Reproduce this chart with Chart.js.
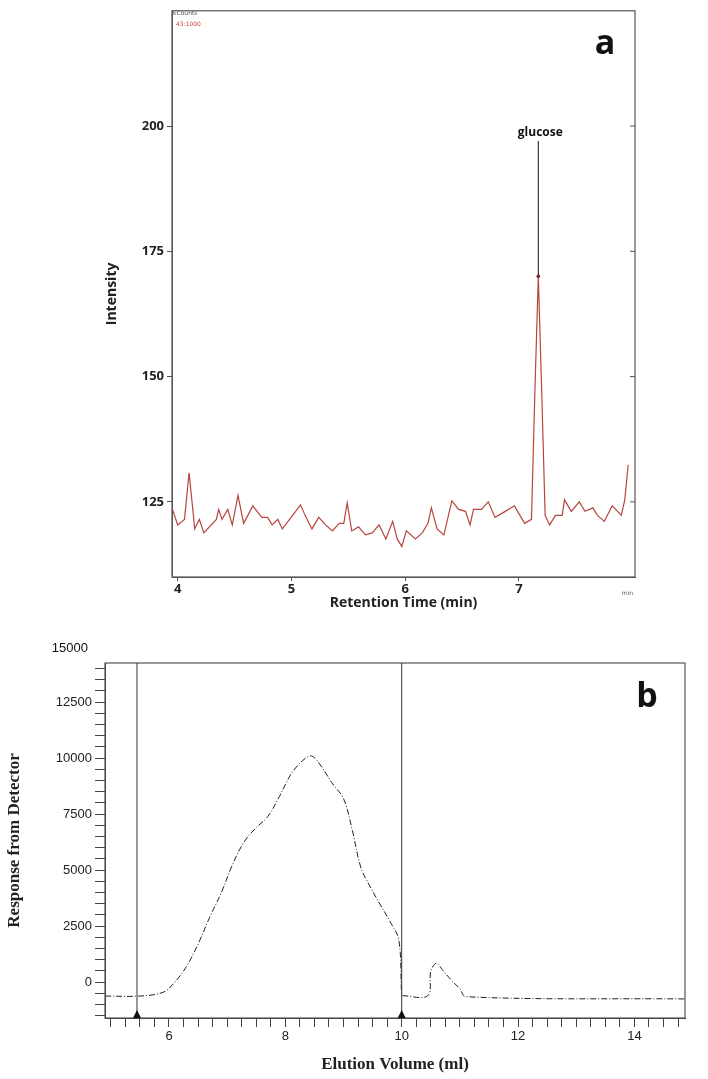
<!DOCTYPE html>
<html><head><meta charset="utf-8">
<script src="https://cdn.jsdelivr.net/npm/chart.js@4"></script>
<style>
body{margin:0;background:#fff;width:708px;height:1079px;position:relative;overflow:hidden}
.box{position:absolute}
</style></head><body>
<div class="box" style="left:100px;top:0;width:540px;height:615px"><canvas id="chartA"></canvas></div>
<div class="box" style="left:0;top:630px;width:708px;height:449px"><canvas id="chartB"></canvas></div>
<script>
// panel a: retention time (min) vs intensity
const timeA = [3.95,4.0,4.06,4.10,4.15,4.19,4.23,4.34,4.36,4.39,4.44,4.48,4.53,4.58,4.66,4.74,4.79,4.83,4.88,4.92,5.01,5.08,5.12,5.18,5.24,5.30,5.36,5.42,5.46,5.49,5.53,5.59,5.65,5.71,5.77,5.83,5.89,5.93,5.97,6.01,6.09,6.15,6.20,6.23,6.28,6.34,6.41,6.47,6.53,6.57,6.60,6.67,6.73,6.79,6.88,6.96,7.05,7.11,7.14,7.17,7.20,7.23,7.27,7.32,7.38,7.40,7.46,7.53,7.58,7.65,7.69,7.75,7.82,7.90,7.93,7.96];
const intensityA = [123.8,120.4,121.5,130.8,119.6,121.5,118.8,121.5,123.5,121.5,123.5,120.4,126.3,120.7,124.2,121.9,121.9,120.4,121.5,119.6,122.3,124.4,122.3,119.6,121.9,120.4,119.2,120.7,120.7,124.8,119.2,120.0,118.4,118.8,120.4,117.6,121.1,117.6,116.1,119.2,117.6,118.8,120.7,123.8,119.6,118.4,125.2,123.5,123.1,120.4,123.5,123.5,125.0,121.9,123.1,124.2,120.7,121.5,147,170,147,122.3,120.4,122.3,122.3,125.4,123.1,125.0,123.1,123.8,122.3,121.1,124.2,122.3,125.4,132.4];
const ticksA = [125,150,175,200];
const peakA = {x:7.17, y:170, label:'glucose'};

// panel b: elution volume (ml) vs detector response
const volumeB = [4.9,5.5,5.9,6.1,6.3,6.5,6.7,6.9,7.1,7.3,7.5,7.7,7.9,8.1,8.3,8.45,8.6,8.8,9.0,9.15,9.3,9.45,9.6,9.8,9.95,10.0,10.02,10.45,10.5,10.6,10.7,10.85,11.0,11.1,14.9];
const responseB = [-620,-620,-450,0,700,1700,2900,4000,5300,6300,6900,7400,8300,9300,9900,10100,9700,8900,8200,6800,5100,4300,3600,2700,1900,-550,-600,-600,500,850,550,100,-300,-650,-750];
const ticksB = [0,2500,5000,7500,10000,12500];
const markersB = [5.45,10.0];

const boxPlugin = {
  id:'box',
  afterDraw(c){
    const a=c.chartArea, ctx=c.ctx;
    ctx.save(); ctx.strokeStyle='#555'; ctx.lineWidth=1.2;
    ctx.strokeRect(a.left,a.top,a.right-a.left,a.bottom-a.top); ctx.restore();
  }
};

new Chart(document.getElementById('chartA'), {
  type:'line',
  data:{datasets:[{data:timeA.map((t,i)=>({x:t,y:intensityA[i]})),borderColor:'#b5473f',borderWidth:1.2,pointRadius:0,tension:0}]},
  options:{
    responsive:true, maintainAspectRatio:false, animation:false,
    layout:{padding:{top:5,right:5,left:0,bottom:0}},
    plugins:{legend:{display:false},tooltip:{enabled:false}},
    scales:{
      x:{type:'linear',min:3.95,max:8.02,afterBuildTicks:s=>{s.ticks=[4,5,6,7].map(v=>({value:v}))},
        grid:{drawOnChartArea:false,tickLength:4,color:'#555'},border:{color:'#555'},
        ticks:{color:'#222',font:{family:'Open Sans',size:13,weight:'bold'},padding:0},
        title:{display:true,text:'Retention Time (min)',color:'#222',font:{family:'Open Sans',size:14,weight:'bold'},padding:{top:0}},
        afterFit:s=>{s.height=38}},
      y:{min:110,max:223,afterBuildTicks:s=>{s.ticks=ticksA.map(v=>({value:v}))},
        grid:{drawOnChartArea:false,tickLength:5,color:'#555'},border:{color:'#555'},
        ticks:{color:'#222',font:{family:'Open Sans',size:13,weight:'bold'}},
        title:{display:true,text:'Intensity',color:'#222',font:{family:'Open Sans',size:14,weight:'bold'}},
        afterFit:s=>{s.width=72}}
    }
  },
  plugins:[boxPlugin,{id:'annA',afterDraw(c){
    const ctx=c.ctx,x=c.scales.x,y=c.scales.y,a=c.chartArea;
    const px=x.getPixelForValue(peakA.x),py=y.getPixelForValue(peakA.y),ty=y.getPixelForValue(197);
    ctx.save();
    ctx.strokeStyle='#111';ctx.lineWidth=1;ctx.beginPath();ctx.moveTo(px,ty);ctx.lineTo(px,py);ctx.stroke();
    ctx.fillStyle='#7a1f1a';ctx.beginPath();ctx.arc(px,py,1.8,0,7);ctx.fill();
    ctx.fillStyle='#111';ctx.font='bold 12px "Open Sans"';ctx.textAlign='center';
    ctx.fillText(peakA.label,px+2,y.getPixelForValue(200)+10);
    ctx.font='bold 34px "Open Sans"';ctx.fillText('a',a.right-30,a.top+43);
    ctx.font='6px "DejaVu Sans"';ctx.textAlign='left';ctx.fillStyle='#555';ctx.fillText('kCounts',a.left+1,a.top+4);
    ctx.fillStyle='#c44';ctx.fillText('43:1000',a.left+4,a.top+15);
    ctx.fillStyle='#555';ctx.textAlign='right';ctx.fillText('min',a.right-2,a.bottom+18);
    ctx.strokeStyle='#555';ticksA.forEach(v=>{const yy=y.getPixelForValue(v);ctx.beginPath();ctx.moveTo(a.right,yy);ctx.lineTo(a.right-5,yy);ctx.stroke();});
    ctx.restore();
  }}]
});

new Chart(document.getElementById('chartB'), {
  type:'line',
  data:{datasets:[{data:volumeB.map((v,i)=>({x:v,y:responseB[i]})),borderColor:'#222',borderWidth:1,borderDash:[6,2,1,2],pointRadius:0,tension:0.35}]},
  options:{
    responsive:true, maintainAspectRatio:false, animation:false,
    layout:{padding:{top:33,right:23,left:0,bottom:0}},
    plugins:{legend:{display:false},tooltip:{enabled:false}},
    scales:{
      x:{type:'linear',min:4.9,max:14.87,
        afterBuildTicks:s=>{const t=[];for(let v=5;v<=14.76;v+=0.25)t.push({value:Math.round(v*100)/100});s.ticks=t;},
        ticks:{autoSkip:false,maxRotation:0,color:'#222',font:{family:'Liberation Sans',size:13},padding:2,
          callback:v=>(v%2===0?String(v):'')},
        grid:{drawOnChartArea:false,tickLength:9,color:'#444'},border:{color:'#333'},
        title:{display:true,text:'Elution Volume (ml)',color:'#222',font:{family:'Liberation Serif',size:17,weight:'bold'},padding:{top:0}},
        afterFit:s=>{s.height=61}},
      y:{min:-1600,max:14250,
        afterBuildTicks:s=>{const t=[];for(let v=-1500;v<=14000;v+=500)t.push({value:v});s.ticks=t;},
        ticks:{autoSkip:false,color:'#222',font:{family:'Liberation Sans',size:13},
          callback:v=>(ticksB.includes(v)?String(v):'')},
        grid:{drawOnChartArea:false,tickLength:10,color:'#444'},border:{color:'#333'},
        title:{display:true,text:'Response from Detector',color:'#222',font:{family:'Liberation Serif',size:17,weight:'bold'}},
        afterFit:s=>{s.width=105}}
    }
  },
  plugins:[boxPlugin,{id:'annB',afterDraw(c){
    const ctx=c.ctx,x=c.scales.x,y=c.scales.y,a=c.chartArea;
    ctx.save();
    ctx.strokeStyle='#333';ctx.lineWidth=1;ctx.fillStyle='#111';
    markersB.forEach(m=>{const px=x.getPixelForValue(m);
      ctx.beginPath();ctx.moveTo(px,a.top);ctx.lineTo(px,a.bottom);ctx.stroke();
      ctx.beginPath();ctx.moveTo(px-4,a.bottom);ctx.lineTo(px+4,a.bottom);ctx.lineTo(px,a.bottom-8);ctx.closePath();ctx.fill();});
    ctx.font='13px "Liberation Sans"';ctx.textAlign='right';ctx.textBaseline='middle';
    ctx.fillText('15000',a.left-17,y.getPixelForValue(14900));
    ctx.font='bold 34px "Open Sans"';ctx.textAlign='center';ctx.fillText('b',a.right-38,a.top+34);
    ctx.translate(700,870);ctx.rotate(-Math.PI/2);ctx.font='9px "Liberation Sans"';ctx.fillText('Agilent GPC-Addon  Rev. B.01.01',0,0);
    ctx.restore();
  }}]
});
</script>
</body></html>
